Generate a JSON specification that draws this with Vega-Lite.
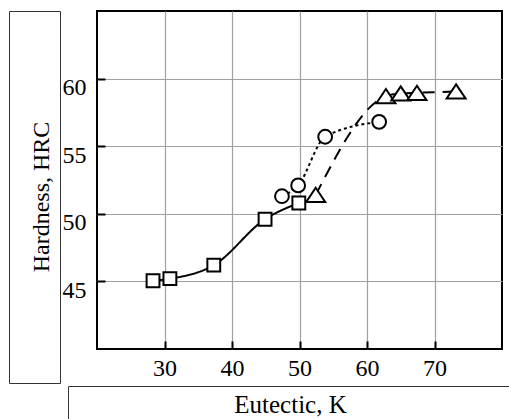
{
  "$schema": "https://vega.github.io/schema/vega-lite/v6.json",
  "background": "white",
  "padding": {"left": 8, "top": 10, "right": 0, "bottom": 0},
  "config": {"font": "Liberation Serif", "view": {"stroke": null}, "axis": {"labelFont": "Liberation Serif"}},
  "datasets": {
    "measurements": [
      {"series": "squares", "eutectic": 28.3, "hardness": 45.05},
      {"series": "squares", "eutectic": 30.8, "hardness": 45.2},
      {"series": "squares", "eutectic": 37.3, "hardness": 46.2},
      {"series": "squares", "eutectic": 44.9, "hardness": 49.6},
      {"series": "squares", "eutectic": 49.9, "hardness": 50.8},
      {"series": "circles", "eutectic": 47.4, "hardness": 51.3},
      {"series": "circles", "eutectic": 49.8, "hardness": 52.1},
      {"series": "circles", "eutectic": 53.8, "hardness": 55.7},
      {"series": "circles", "eutectic": 61.8, "hardness": 56.8},
      {"series": "triangles", "eutectic": 52.4, "hardness": 51.4},
      {"series": "triangles", "eutectic": 62.8, "hardness": 58.7},
      {"series": "triangles", "eutectic": 65.0, "hardness": 58.9},
      {"series": "triangles", "eutectic": 67.4, "hardness": 58.95},
      {"series": "triangles", "eutectic": 73.2, "hardness": 59.05}
    ],
    "titles": [
      {"axis": "y", "label": "Hardness, HRC"},
      {"axis": "x", "label": "Eutectic, K"}
    ]
  },
  "spacing": 1,
  "vconcat": [
    {
      "spacing": 0,
      "hconcat": [
        {
          "width": 51,
          "height": 372,
          "data": {"name": "titles"},
          "transform": [{"filter": "datum.axis === 'y'"}],
          "view": {"stroke": "#333333", "strokeWidth": 1},
          "mark": {"type": "text", "angle": 270, "fontSize": 24, "baseline": "alphabetic", "dy": 14, "color": "black", "font": "Liberation Serif"},
          "encoding": {"text": {"field": "label"}}
        },
        {
          "width": 405,
          "height": 338,
          "data": {"name": "measurements"},
          "view": {"stroke": "black", "strokeWidth": 2},
          "encoding": {
            "x": {
              "field": "eutectic",
              "type": "quantitative",
              "scale": {"domain": [20, 80], "nice": false},
              "axis": {
                "values": [30, 40, 50, 60, 70],
                "title": null,
                "grid": true,
                "gridColor": "#a0a0a0",
                "gridWidth": 1.2,
                "gridOpacity": 1,
                "domain": false,
                "ticks": true,
                "tickSize": -8,
                "tickWidth": 2,
                "tickColor": "black",
                "labelFont": "Liberation Serif",
                "labelFontSize": 24,
                "labelColor": "black",
                "labelBaseline": "alphabetic",
                "labelPadding": 34,
                "labelFlush": false,
                "labelOverlap": false
              }
            },
            "y": {
              "field": "hardness",
              "type": "quantitative",
              "scale": {"domain": [40, 65], "nice": false, "zero": false},
              "axis": {
                "values": [45, 50, 55, 60],
                "title": null,
                "grid": true,
                "gridColor": "#a0a0a0",
                "gridWidth": 1.2,
                "gridOpacity": 1,
                "domain": false,
                "ticks": true,
                "tickSize": -8,
                "tickWidth": 2,
                "tickColor": "black",
                "labelFont": "Liberation Serif",
                "labelFontSize": 24,
                "labelColor": "black",
                "labelAlign": "right",
                "labelBaseline": "alphabetic",
                "labelOffset": 16,
                "labelPadding": 19,
                "labelFlush": false,
                "labelOverlap": false
              }
            }
          },
          "layer": [
            {
              "mark": {"type": "line", "interpolate": "monotone", "color": "black", "strokeWidth": 2},
              "encoding": {
                "strokeDash": {
                  "field": "series",
                  "type": "nominal",
                  "scale": {"domain": ["squares", "circles", "triangles"], "range": [[1, 0], [3, 3], [12, 8]]},
                  "legend": null
                }
              }
            },
            {
              "transform": [{"filter": "datum.series === 'squares'"}],
              "mark": {"type": "point", "shape": "square", "size": 165, "filled": true, "fill": "white", "stroke": "black", "strokeWidth": 2, "opacity": 1}
            },
            {
              "transform": [{"filter": "datum.series === 'circles'"}],
              "mark": {"type": "point", "shape": "circle", "size": 190, "filled": true, "fill": "white", "stroke": "black", "strokeWidth": 2, "opacity": 1}
            },
            {
              "transform": [{"filter": "datum.series === 'triangles'"}],
              "mark": {"type": "point", "shape": "M0,-0.75L1,0.75L-1,0.75Z", "size": 360, "filled": true, "fill": "white", "stroke": "black", "strokeWidth": 2, "opacity": 1}
            }
          ]
        }
      ]
    },
    {
      "spacing": 7,
      "hconcat": [
        {
          "width": 51,
          "height": 54,
          "data": {"name": "titles"},
          "transform": [{"filter": "datum.axis === 'x'"}],
          "mark": {"type": "text", "opacity": 0},
          "encoding": {"text": {"field": "label"}}
        },
        {
          "width": 445,
          "height": 54,
          "data": {"name": "titles"},
          "transform": [{"filter": "datum.axis === 'x'"}],
          "view": {"stroke": "#333333", "strokeWidth": 1},
          "mark": {"type": "text", "fontSize": 25, "baseline": "alphabetic", "color": "black", "font": "Liberation Serif"},
          "encoding": {"text": {"field": "label"}}
        }
      ]
    }
  ]
}
